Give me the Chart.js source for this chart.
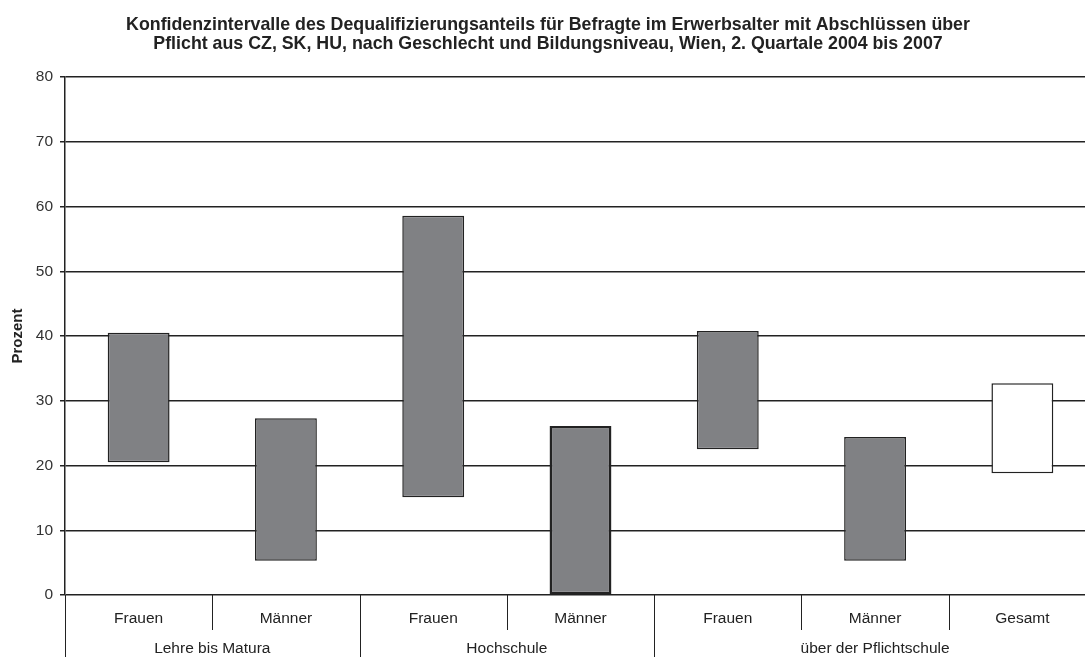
<!DOCTYPE html>
<html>
<head>
<meta charset="utf-8">
<script src="https://cdn.jsdelivr.net/npm/chart.js@4/dist/chart.umd.min.js"></script>
<style>
  html, body { margin: 0; padding: 0; background: #fff; overflow: hidden; }
  #wrap { width: 1100px; height: 657px; position: relative; }
</style>
</head>
<body>
<div id="wrap"><canvas id="chart"></canvas></div>
<script>
const subLabels = ["Frauen", "Männer", "Frauen", "Männer", "Frauen", "Männer", "Gesamt"];
const groupLabels = ["Lehre bis Matura", "Hochschule", "über der Pflichtschule"];
const groupSizes = [2, 2, 3];
const lowerBound = [20.5, 5.3, 15.1, 0, 22.5, 5.3, 18.8];
const upperBound = [40.5, 27.3, 58.6, 26.1, 40.8, 24.4, 32.7];
const yTicks = [0, 10, 20, 30, 40, 50, 60, 70, 80];

const ranges = lowerBound.map((lo, i) => [lo, upperBound[i]]);
const fills = subLabels.map((l) => (l === "Gesamt" ? "#ffffff" : "#808184"));
const FONT = "'Liberation Sans', Arial, sans-serif";

// zweistufige Achsenbeschriftung unter dem Diagramm
const groupAxis = {
  id: "groupAxis",
  afterDraw(chart) {
    const { ctx, scales: { x, y } } = chart;
    const base = y.getPixelForValue(0);
    const n = subLabels.length;
    const edge = (i) => {
      if (i === 0) return chart.chartArea.left;
      if (i === n) return chart.chartArea.right;
      return (x.getPixelForValue(i - 1) + x.getPixelForValue(i)) / 2;
    };
    const starts = [];
    let acc = 0;
    groupSizes.forEach((s) => { starts.push(acc); acc += s; });

    ctx.save();
    ctx.strokeStyle = "#222";
    ctx.lineWidth = 1;
    for (let i = 0; i <= n; i++) {
      const px = Math.round(edge(i)) + 0.5;
      const long = starts.includes(i) || i === n;
      ctx.beginPath();
      ctx.moveTo(px, base);
      ctx.lineTo(px, long ? chart.height : base + 35);
      ctx.stroke();
    }

    ctx.fillStyle = "#222";
    ctx.font = "15.5px " + FONT;
    ctx.textAlign = "center";
    ctx.textBaseline = "middle";
    subLabels.forEach((l, i) => ctx.fillText(l, x.getPixelForValue(i), base + 24));
    groupLabels.forEach((g, k) => {
      const a = x.getPixelForValue(starts[k]);
      const b = x.getPixelForValue(starts[k] + groupSizes[k] - 1);
      ctx.fillText(g, (a + b) / 2, base + 54);
    });
    ctx.restore();
  },
};

new Chart(document.getElementById("chart"), {
  type: "bar",
  data: {
    labels: subLabels,
    datasets: [
      {
        data: ranges,
        backgroundColor: fills,
        borderColor: "#222",
        borderWidth: [1.5, 1.5, 1.5, 2.5, 1.5, 1.5, 1.5],
        borderSkipped: false,
        barPercentage: 0.42,
        categoryPercentage: 1,
      },
    ],
  },
  options: {
    responsive: true,
    maintainAspectRatio: false,
    animation: false,
    layout: { padding: { left: 0, right: 4, top: 0, bottom: 0 } },
    plugins: {
      legend: { display: false },
      tooltip: { enabled: false },
      title: {
        display: true,
        text: [
          "Konfidenzintervalle des Dequalifizierungsanteils für Befragte im Erwerbsalter mit Abschlüssen über",
          "Pflicht aus CZ, SK, HU, nach Geschlecht und Bildungsniveau, Wien, 2. Quartale 2004 bis 2007",
        ],
        color: "#222",
        font: { size: 17.8, weight: "bold", family: FONT, lineHeight: 1.1 },
        padding: { top: 15, bottom: 23 },
      },
    },
    scales: {
      x: {
        ticks: { display: false },
        grid: { display: false },
        border: { display: false },
        afterFit(scale) { scale.height = 62; },
      },
      y: {
        min: 0,
        max: 80,
        afterBuildTicks(scale) { scale.ticks = yTicks.map((v) => ({ value: v })); },
        afterFit(scale) { scale.width = 65; },
        ticks: {
          color: "#333",
          padding: 7,
          font: { size: 15.5, family: FONT },
        },
        grid: { color: "#222", lineWidth: 1.5, tickLength: 5 },
        border: { color: "#222", width: 1.5 },
        title: {
          display: true,
          text: "Prozent",
          color: "#222",
          padding: { top: 9, bottom: 2 },
          font: { size: 15, weight: "bold", family: FONT },
        },
      },
    },
  },
  plugins: [groupAxis],
});
</script>
</body>
</html>
